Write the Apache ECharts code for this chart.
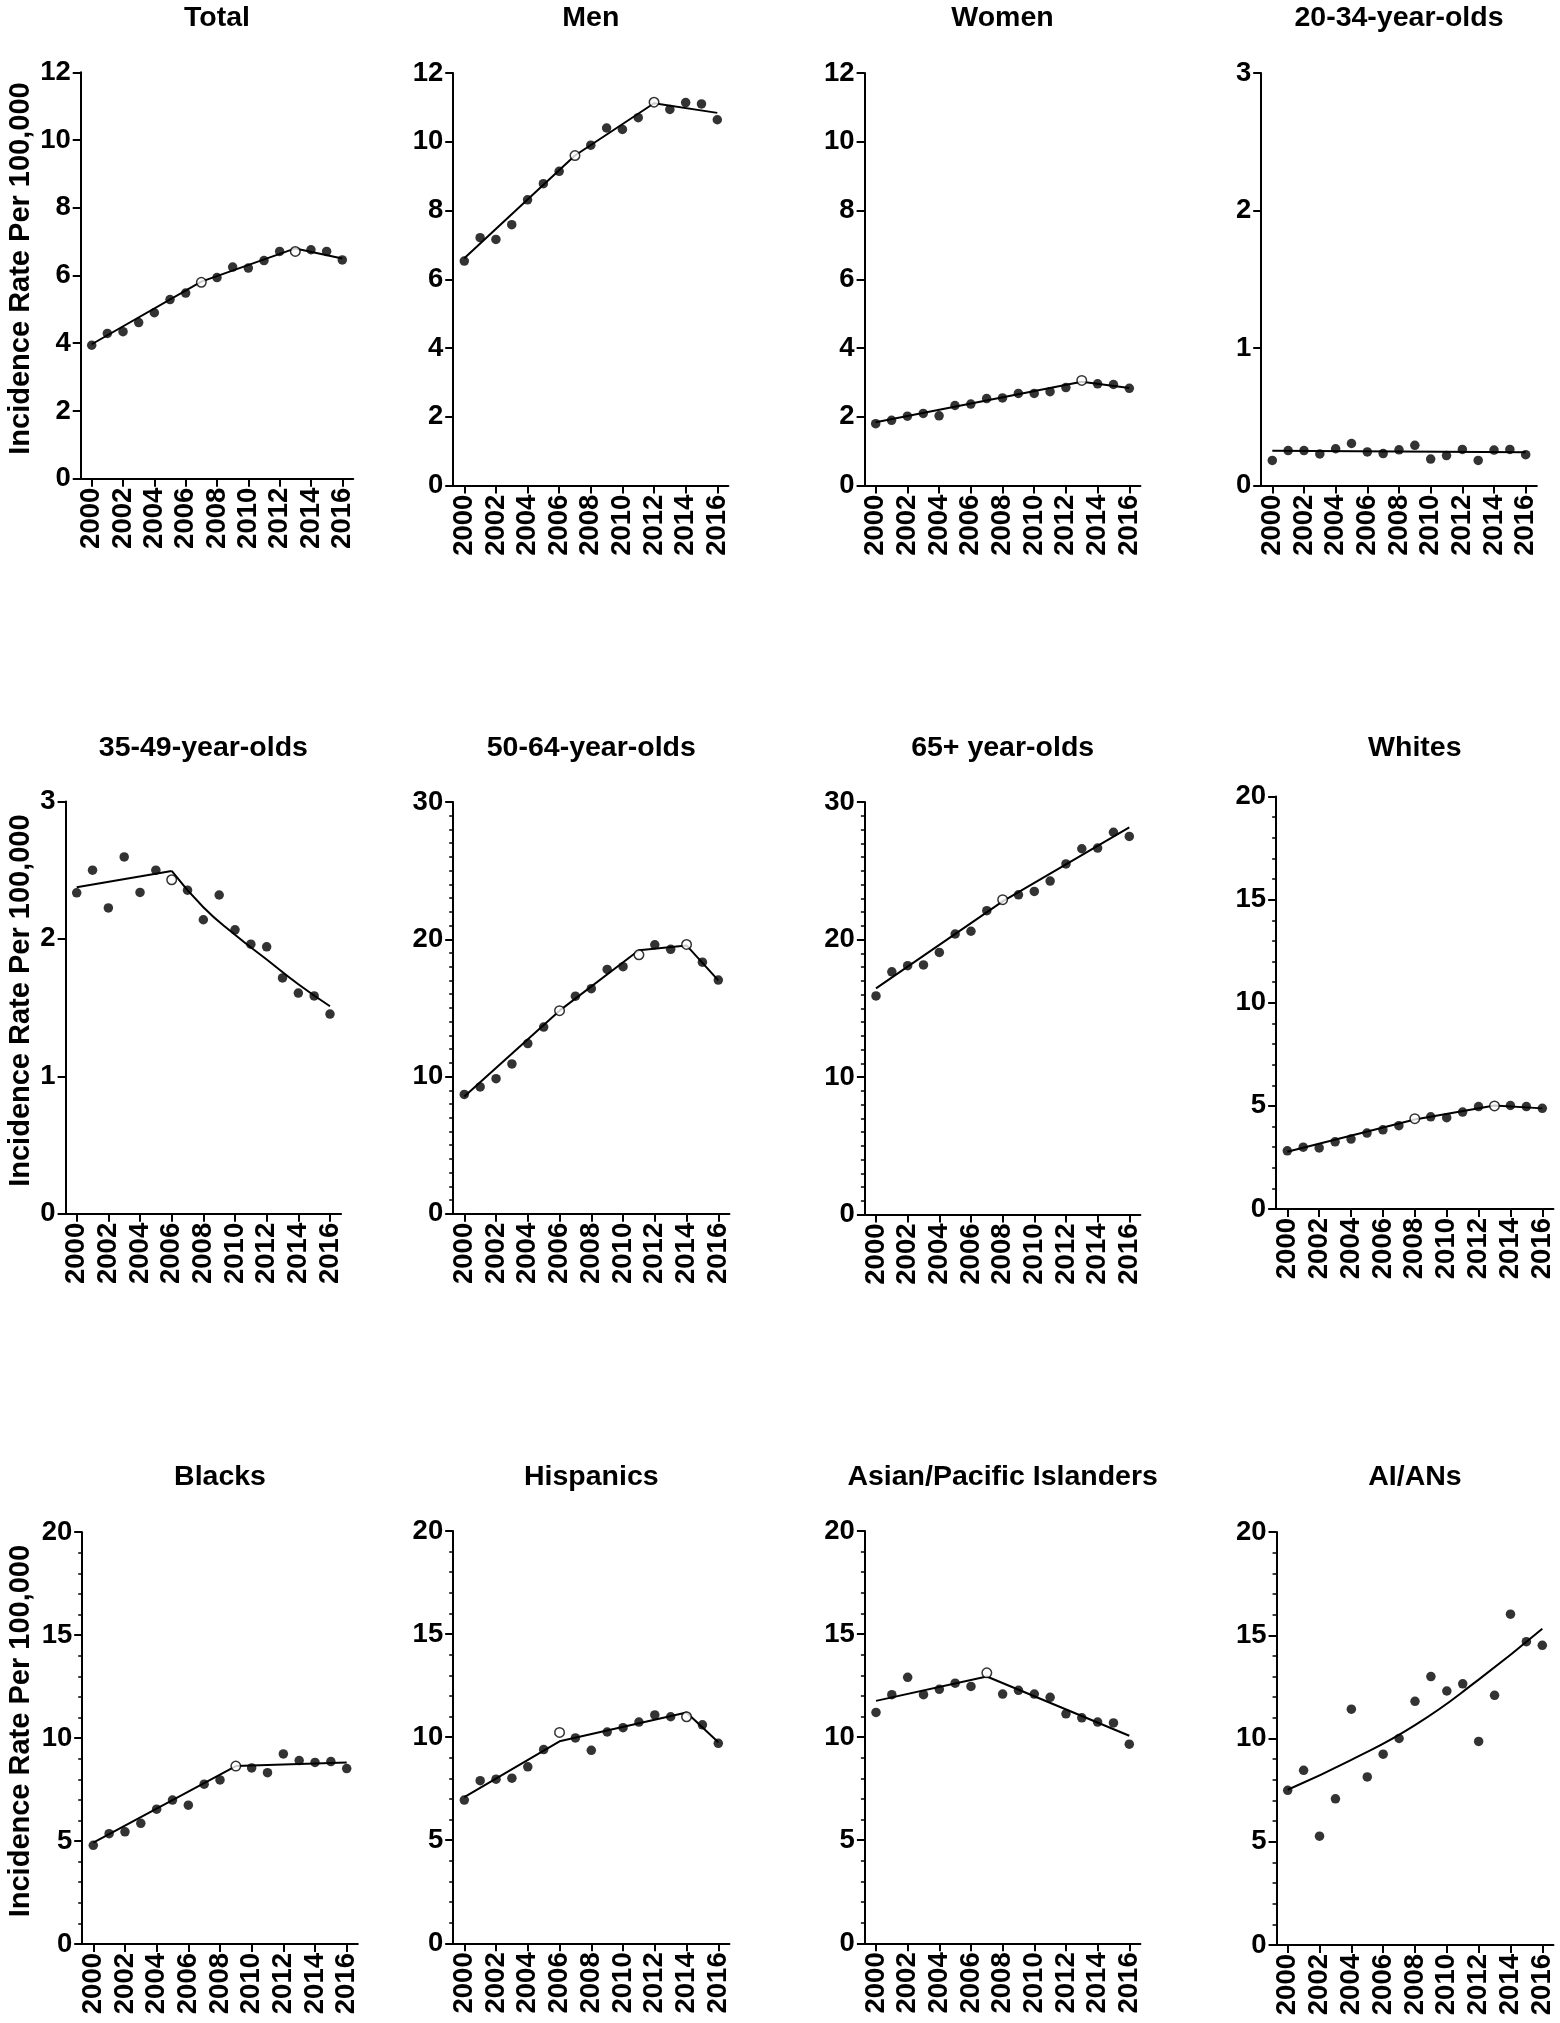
<!DOCTYPE html>
<html>
<head>
<meta charset="utf-8">
<script src="https://cdn.jsdelivr.net/npm/echarts@6/dist/echarts.min.js"></script>
<style>
html,body{margin:0;padding:0;background:#fff;}
#chart{width:1560px;height:2023px;}
</style>
</head>
<body>
<div id="chart"></div>
<script>
// ---------------- DATA ----------------
const years = [2000,2001,2002,2003,2004,2005,2006,2007,2008,2009,2010,2011,2012,2013,2014,2015,2016];
const xTickYears = [2000,2002,2004,2006,2008,2010,2012,2014,2016];
const panelTitles = ['Total','Men','Women','20-34-year-olds','35-49-year-olds','50-64-year-olds','65+ year-olds','Whites','Blacks','Hispanics','Asian/Pacific Islanders','AI/ANs'];
const yAxisName = 'Incidence Rate Per 100,000';

const totalRates = [3.94,4.29,4.34,4.61,4.90,5.29,5.48,5.80,5.94,6.25,6.22,6.44,6.71,6.71,6.76,6.71,6.46];
const totalFit = [[2000,3.97],[2007,5.82],[2013,6.80],[2016,6.50]];
const totalJoin = [2007,2013];

const menRates = [6.53,7.21,7.16,7.59,8.31,8.78,9.14,9.60,9.90,10.40,10.36,10.70,11.15,10.94,11.14,11.10,10.64];
const menFit = [[2000,6.61],[2007,9.60],[2012,11.12],[2016,10.84]];
const menJoin = [2007,2012];

const womenRates = [1.80,1.90,2.02,2.10,2.03,2.33,2.37,2.53,2.55,2.68,2.68,2.73,2.85,3.06,2.96,2.94,2.83];
const womenFit = [[2000,1.84],[2013,3.02],[2016,2.84]];
const womenJoin = [2013];

const age2034Rates = [0.183,0.255,0.255,0.230,0.268,0.306,0.245,0.233,0.260,0.293,0.193,0.218,0.263,0.183,0.258,0.263,0.225];
const age2034Fit = [[2000,0.253],[2016,0.243]];
const age2034Join = [];

const age3549Rates = [2.335,2.50,2.225,2.596,2.338,2.50,2.43,2.354,2.139,2.319,2.066,1.961,1.942,1.716,1.606,1.585,1.453];
const age3549Fit = [[2000,2.375],[2006,2.494]];
const age3549Curve = [[2006,2.494],[2008,2.23],[2010,2.03],[2012,1.85],[2014,1.67],[2016,1.51]];
const age3549Join = [2006];

const age5064Rates = [8.70,9.24,9.84,10.92,12.4,13.6,14.8,15.85,16.4,17.8,18.0,18.87,19.6,19.27,19.62,18.33,17.03];
const age5064Fit = [[2000,8.54],[2006,14.8],[2011,19.2],[2014,19.55],[2016,17.0]];
const age5064Join = [2006,2011,2014];

const age65Rates = [15.9,17.65,18.1,18.15,19.06,20.4,20.6,22.1,22.9,23.25,23.5,24.25,25.5,26.6,26.65,27.8,27.5];
const age65Fit = [[2000,16.45],[2008,22.77],[2016,28.15]];
const age65Join = [2008];

const whitesRates = [2.82,3.0,2.96,3.26,3.39,3.68,3.84,4.04,4.38,4.47,4.43,4.70,4.97,5.0,5.02,4.97,4.88];
const whitesFit = [[2000,2.78],[2008,4.34],[2013,5.02],[2016,4.88]];
const whitesJoin = [2008,2013];

const blacksRates = [4.79,5.36,5.45,5.86,6.55,6.99,6.74,7.76,7.97,8.64,8.55,8.32,9.23,8.91,8.82,8.86,8.52];
const blacksFit = [[2000,4.92],[2009,8.64],[2016,8.82]];
const blacksJoin = [2009];

const hispanicsRates = [6.95,7.89,7.96,8.01,8.56,9.40,10.23,9.96,9.36,10.25,10.46,10.73,11.08,10.99,10.99,10.60,9.70];
const hispanicsFit = [[2000,7.09],[2006,9.80],[2014,11.2],[2016,9.75]];
const hispanicsJoin = [2006,2014];

const asianRates = [11.2,12.06,12.9,12.06,12.32,12.62,12.46,13.12,12.09,12.27,12.09,11.93,11.13,10.94,10.73,10.69,9.66];
const asianFit = [[2000,11.76],[2007,12.94],[2016,10.07]];
const asianJoin = [2007];

const aianRates = [7.49,8.46,5.27,7.08,11.42,8.14,9.24,10.0,11.8,13.0,12.3,12.65,9.86,12.09,16.02,14.69,14.51];
const aianCurve = [[2000,7.52],[2004,8.97],[2008,10.65],[2012,12.85],[2016,15.31]];
const aianJoin = [];

// y-axis scales (max, major step)
const yScales = [[12,2],[12,2],[12,2],[3,1],[3,1],[30,10],[30,10],[20,5],[20,5],[20,5],[20,5],[20,5]];

// ---------------- LAYOUT (pixels) ----------------
const layout = [
  {x0:91.7,  x1:342.3,  top:72.3,  bot:478.7,  ty:19.6},
  {x0:464.3, x1:717.3,  top:73.0,  bot:485.6,  ty:19.6},
  {x0:875.7, x1:1129.3, top:73.0,  bot:485.6,  ty:19.6},
  {x0:1272.3,x1:1525.7, top:73.0,  bot:485.6,  ty:19.6},
  {x0:76.7,  x1:330.0,  top:801.4, bot:1213.8, ty:749.6},
  {x0:464.3, x1:718.3,  top:802.0, bot:1213.8, ty:749.6},
  {x0:876.0, x1:1129.3, top:802.0, bot:1214.5, ty:749.6},
  {x0:1287.3,x1:1542.3, top:796.6, bot:1209.0, ty:749.6},
  {x0:93.3,  x1:346.7,  top:1532.2,bot:1944.0, ty:1479.0},
  {x0:464.3, x1:718.3,  top:1531.0,bot:1943.3, ty:1479.0},
  {x0:876.0, x1:1129.3, top:1531.0,bot:1943.3, ty:1479.0},
  {x0:1287.7,x1:1542.3, top:1532.0,bot:1945.0, ty:1479.0}
];

const panels = [
  {rates: totalRates, fit: totalFit, curve: null, join: totalJoin},
  {rates: menRates, fit: menFit, curve: null, join: menJoin},
  {rates: womenRates, fit: womenFit, curve: null, join: womenJoin},
  {rates: age2034Rates, fit: age2034Fit, curve: null, join: age2034Join},
  {rates: age3549Rates, fit: age3549Fit, curve: age3549Curve, join: age3549Join},
  {rates: age5064Rates, fit: age5064Fit, curve: null, join: age5064Join},
  {rates: age65Rates, fit: age65Fit, curve: null, join: age65Join},
  {rates: whitesRates, fit: whitesFit, curve: null, join: whitesJoin},
  {rates: blacksRates, fit: blacksFit, curve: null, join: blacksJoin},
  {rates: hispanicsRates, fit: hispanicsFit, curve: null, join: hispanicsJoin},
  {rates: asianRates, fit: asianFit, curve: null, join: asianJoin},
  {rates: aianRates, fit: null, curve: aianCurve, join: aianJoin}
];

// ---------------- BUILD ----------------
const FONT = '"Liberation Sans", Arial, Helvetica, sans-serif';
const FS = 27.5;
const TITLE_FS = 28.5;
const X_PAD = 0.7;
const grids = [], xAxes = [], yAxes = [], series = [], titles = [];

panels.forEach((p, i) => {
  const L = layout[i];
  const ppy = (L.x1 - L.x0) / 16;
  const left = L.x0 - X_PAD * ppy;
  const width = (16 + 2 * X_PAD) * ppy;
  grids.push({left: left, top: L.top, width: width, height: L.bot - L.top, containLabel: false, outerBoundsMode: 'none'});
  titles.push({
    text: panelTitles[i], left: left + width / 2, top: L.ty - 16, textAlign: 'center', padding: 0,
    textStyle: {fontFamily: FONT, fontSize: TITLE_FS, fontWeight: 'bold', color: '#000'}
  });
  xAxes.push({
    gridIndex: i, type: 'value', min: 2000 - X_PAD, max: 2016 + X_PAD,
    axisLine: {show: true, onZero: false, lineStyle: {color: '#000', width: 2}},
    axisTick: {show: true, customValues: xTickYears, length: 8, lineStyle: {color: '#000', width: 2}},
    axisLabel: {show: true, customValues: xTickYears, rotate: 90, margin: 9, formatter: v => String(v),
      fontFamily: FONT, fontSize: FS, fontWeight: 'bold', color: '#000'},
    splitLine: {show: false}
  });
  const [ymax, ystep] = yScales[i];
  const minorSplit = ymax === 30 ? 10 : (ymax === 20 ? 5 : 0);
  const yAx = {
    gridIndex: i, type: 'value', min: 0, max: ymax, interval: ystep,
    axisLine: {show: true, lineStyle: {color: '#000', width: 2}},
    axisTick: {show: true, length: 8, lineStyle: {color: '#000', width: 2}},
    minorTick: {show: minorSplit > 0, splitNumber: minorSplit || 5, length: 4, lineStyle: {color: '#000', width: 1.5}},
    axisLabel: {margin: 10, fontFamily: FONT, fontSize: FS, fontWeight: 'bold', color: '#000'},
    splitLine: {show: false}, minorSplitLine: {show: false}
  };
  if (i % 4 === 0) {
    yAx.name = yAxisName;
    yAx.nameLocation = 'middle';
    yAx.nameGap = left - 35;
    yAx.nameTextStyle = {fontFamily: FONT, fontSize: 29, fontWeight: 'bold', color: '#000', padding: [0, 0, 0, 14]};
  }
  yAxes.push(yAx);

  if (p.fit) {
    series.push({type: 'line', xAxisIndex: i, yAxisIndex: i, data: p.fit, symbol: 'none', silent: true,
      lineStyle: {color: '#000', width: 2}, z: 2});
  }
  if (p.curve) {
    series.push({type: 'line', xAxisIndex: i, yAxisIndex: i, data: p.curve, symbol: 'none', smooth: true, silent: true,
      lineStyle: {color: '#000', width: 2}, z: 2});
  }
  series.push({
    type: 'scatter', xAxisIndex: i, yAxisIndex: i, symbol: 'circle', symbolSize: 9.5, z: 3,
    data: years.map((yr, k) => ({
      value: [yr, p.rates[k]],
      itemStyle: p.join.includes(yr)
        ? {color: '#fff', borderColor: '#000', borderWidth: 1.5}
        : {color: '#000', borderWidth: 0}
    }))
  });
});

const chart = echarts.init(document.getElementById('chart'), null, {renderer: 'canvas'});
chart.setOption({
  animation: false,
  backgroundColor: '#fff',
  title: titles,
  grid: grids,
  xAxis: xAxes,
  yAxis: yAxes,
  series: series
});
</script>
</body>
</html>
